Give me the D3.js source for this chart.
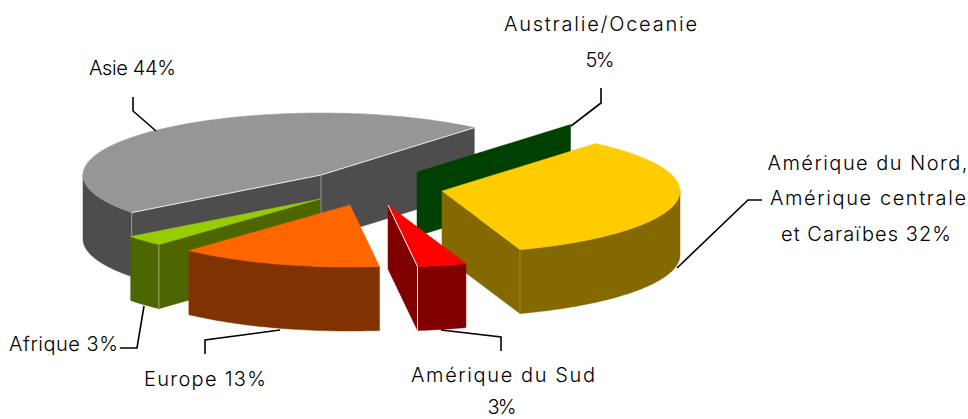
<!DOCTYPE html>
<html><head><meta charset="utf-8">
<script src="https://cdn.jsdelivr.net/npm/d3@7/dist/d3.min.js"></script>
<style>html,body{margin:0;padding:0;background:#fff}svg{display:block}text{font-family:"Inter","Open Sans",sans-serif;font-weight:300;font-size:20px;fill:#000}</style>
</head><body><svg id="c" width="968" height="419"></svg>
<script>
// Data: categories, printed percentages, and the sweep each slice visibly occupies in the picture
const categories = ["Asie","Australie/Oceanie","Amérique du Nord","Amérique du Sud","Europe","Afrique"];
const printedPercent = [44,5,32,3,13,3];
const drawnShare = [46.47,0,33.5,3.33,13.8,2.8];
const topColors = ["#969696","#004000","#ffcc00","#ff0000","#ff6600","#99cc00"];
const wallColors = ["#4d4d4d","#004000","#846800","#800000","#803300","#4d6600"];
const edgeColors = ["#9a9a9a",null,"#a08c30","#ffffff",null,"#a0b070"];
const ridgeColors = ["#e8e8e8",null,null,"#ffffff",null,null];
const apexX = [321,417,442,388,350,320];
const apexY = [175,172,191,205,205,199];
const paintOrder = [0,1,2,3,5,4];

const rx = 238, ry = 62, depth = 64, startDeg = 232.7;
const svg = d3.select("#c");
const tau = Math.PI*2;
const pie = d3.pie().sort(null).startAngle(startDeg/360*tau).endAngle(startDeg/360*tau+tau);
const arcs = pie(drawnShare);
const line = d3.line();
const sx = d3.scaleLinear().domain([-1,1]).range([-rx,rx]);
const sy = d3.scaleLinear().domain([-1,1]).range([ry,-ry]);
const norm = a => ((a%tau)+tau)%tau;
const pt = (i,a,dz=0)=>[apexX[i]+sx(Math.sin(a)),apexY[i]+sy(Math.cos(a))+dz];
function arcPts(i,a,b,dz=0){const n=Math.max(2,Math.ceil(Math.abs(b-a)/0.02));
  return d3.range(n+1).map(k=>pt(i,a+(b-a)*k/n,dz));}
const g = svg.append("g");
paintOrder.forEach(i=>{
  const s=arcs[i].startAngle,e=arcs[i].endAngle;
  const A=[apexX[i],apexY[i]],Ad=[A[0],A[1]+depth];
  const sn=norm(s),en=norm(e);
  const sliceG=g.append("g").attr("class","slice").attr("data-cat",categories[i]);
  const wall=p=>sliceG.append("path").attr("d",line(p)+"Z").attr("fill",wallColors[i]).attr("stroke",wallColors[i]).attr("stroke-width",.5);
  // outer wall: front half of the rim only
  const lo=Math.PI/2,hi=Math.PI*1.5;
  let a0=sn,a1=sn+(e-s);
  const segs=[[a0,a1],[a0+tau,a1+tau],[a0-tau,a1-tau]];
  segs.forEach(([u,v])=>{const p=Math.max(u,lo),q=Math.min(v,hi);
    if(q>p){wall(arcPts(i,p,q).concat(arcPts(i,q,p,depth)));}});
  // cut walls that face the viewer
  const cuts=[];
  if(sn>Math.PI) cuts.push(s);
  if(en>0&&en<Math.PI) cuts.push(e);
  cuts.forEach(c=>{const P=pt(i,c);wall([A,P,[P[0],P[1]+depth],Ad]);});
  if(e>s) sliceG.append("path").attr("d",line([A].concat(arcPts(i,s,e)))+"Z").attr("fill",topColors[i]).attr("stroke",topColors[i]).attr("stroke-width",.5);
  cuts.forEach(c=>{const P=pt(i,c);
    if(ridgeColors[i]) sliceG.append("path").attr("d",line([A,P])).attr("fill","none").attr("stroke",ridgeColors[i]).attr("stroke-width",1);
    if(edgeColors[i]) sliceG.append("path").attr("d",line([P,[P[0],P[1]+depth]])).attr("fill","none").attr("stroke",edgeColors[i]).attr("stroke-width",1);
  });
  if(i===0&&edgeColors[i]) sliceG.append("path").attr("d",line([A,[A[0],A[1]+depth]])).attr("fill","none").attr("stroke",edgeColors[i]).attr("stroke-width",1);
});

// Leaders
const leaders=[
 [[156,131],[133,111],[133,97]],
 [[571,126],[601,103],[601,88]],
 [[677,268],[748,200],[762,200]],
 [[441,330],[501,337],[501,351]],
 [[280,330],[205,340],[205,354]],
 [[144,306],[137,348],[120,348]]
];
svg.append("g").selectAll("path").data(leaders).join("path").attr("d",d=>line(d)).attr("fill","none").attr("stroke","#000").attr("stroke-width",1.6);

// Labels
const labelLines=[
 {t:`${categories[0]} ${printedPercent[0]}%`,x:132.5,y:75,w:87},
 {t:categories[1],x:600.5,y:31,w:193},
 {t:`${printedPercent[1]}%`,x:600,y:67,w:29},
 {t:`${categories[2]},`,x:867.5,y:170,w:200},
 {t:"Amérique centrale",x:868,y:205,w:196},
 {t:`et Caraïbes ${printedPercent[2]}%`,x:866,y:241,w:170},
 {t:categories[3],x:503,y:382,w:184},
 {t:`${printedPercent[3]}%`,x:502,y:414,w:29},
 {t:`${categories[4]} ${printedPercent[4]}%`,x:205,y:386,w:122},
 {t:`${categories[5]} ${printedPercent[5]}%`,x:63.5,y:351,w:109}
];
svg.append("g").selectAll("text").data(labelLines).join("text")
 .attr("x",d=>d.x).attr("y",d=>d.y).attr("text-anchor","middle")
 .attr("textLength",d=>d.w).attr("lengthAdjust","spacing").text(d=>d.t);
</script></body></html>
